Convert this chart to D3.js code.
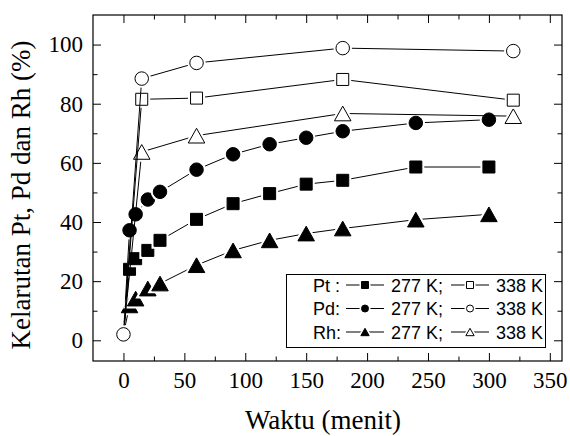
<!DOCTYPE html>
<html>
<head>
<meta charset="utf-8">
<script src="https://cdn.jsdelivr.net/npm/d3@7"></script>
<style>
  body { margin: 0; background: #fff; }
  svg { display: block; }
</style>
</head>
<body>
<svg id="chart" width="570" height="436"></svg>
<script>
// data
const t_277 = [0, 5, 10, 20, 30, 60, 90, 120, 150, 180, 240, 300];
const t_338 = [0, 15, 60, 180, 320];

const pt_277 = [2, 24, 27.6, 30.4, 33.8, 40.9, 46.2, 49.6, 52.8, 54.1, 58.6, 58.6];
const pd_277 = [2, 37.2, 42.6, 47.6, 50.2, 57.7, 62.9, 66.3, 68.5, 70.7, 73.5, 74.6];
const rh_277 = [2, 11.8, 14.1, 17.5, 19.2, 25.4, 30.4, 33.8, 36.1, 37.8, 40.8, 42.6];

const pt_338 = [2, 81.5, 81.9, 88.2, 81.2];
const pd_338 = [2, 88.5, 93.8, 98.8, 97.8];
const rh_338 = [2, 63.7, 69.2, 76.7, 75.8];

const x_ticks = [0, 50, 100, 150, 200, 250, 300, 350];
const x_minor = [25, 75, 125, 175, 225, 275, 325];
const y_ticks = [0, 20, 40, 60, 80, 100];
const y_minor = [10, 30, 50, 70, 90];

const series = [
  { t: t_277, v: pt_277, shape: "square", fill: "#000" },
  { t: t_277, v: pd_277, shape: "circle", fill: "#000" },
  { t: t_277, v: rh_277, shape: "triangle", fill: "#000" },
  { t: t_338, v: rh_338, shape: "triangle", fill: "#fff" },
  { t: t_338, v: pt_338, shape: "square", fill: "#fff" },
  { t: t_338, v: pd_338, shape: "circle", fill: "#fff" },
];

const m_left = 93, m_top = 15, m_right = 562, m_bottom = 361;
const serif = "'Liberation Serif', 'Times New Roman', serif";
const sans = "'Liberation Sans', Arial, sans-serif";

const svg = d3.select("#chart");

const x = d3.scaleLinear().domain([-25, 360]).range([m_left, m_right]);
const y = d3.scaleLinear().domain([-7, 110]).range([m_bottom, m_top]);

// marker path, centred on the bounding box
function marker(shape, s) {
  const p = d3.path();
  if (shape == "square") {
    p.rect(-s / 2, -s / 2, s, s);
  } else if (shape == "circle") {
    p.arc(0, 0, s / 2, 0, 2 * Math.PI);
  } else {
    const w = s * 1.18, h = s * 1.05;
    p.moveTo(0, -h / 2);
    p.lineTo(w / 2, h / 2);
    p.lineTo(-w / 2, h / 2);
    p.closePath();
  }
  return p.toString();
}

// axes, ticks pointing inward
function addAxis(axis, tx, ty, labels) {
  const g = svg.append("g").attr("transform", `translate(${tx},${ty})`).call(axis);
  g.select(".domain").remove();
  g.selectAll("line").attr("stroke", "#000").attr("stroke-width", 1);
  g.selectAll("text")
    .style("font-family", serif)
    .style("font-size", "23px")
    .attr("fill", "#000");
  if (!labels) g.selectAll("text").remove();
  return g;
}

addAxis(d3.axisBottom(x).tickValues(x_ticks).tickSize(-8).tickPadding(11).tickFormat(d3.format("d")), 0, m_bottom, true);
addAxis(d3.axisBottom(x).tickValues(x_minor).tickSize(-4.5), 0, m_bottom, false);
addAxis(d3.axisTop(x).tickValues(x_ticks).tickSize(-8), 0, m_top, false);
addAxis(d3.axisTop(x).tickValues(x_minor).tickSize(-4.5), 0, m_top, false);
addAxis(d3.axisLeft(y).tickValues(y_ticks).tickSize(-8).tickPadding(10).tickFormat(d3.format("d")), m_left, 0, true);
addAxis(d3.axisLeft(y).tickValues(y_minor).tickSize(-4.5), m_left, 0, false);
addAxis(d3.axisRight(y).tickValues(y_ticks).tickSize(-8), m_right, 0, false);
addAxis(d3.axisRight(y).tickValues(y_minor).tickSize(-4.5), m_right, 0, false);

svg.append("rect")
  .attr("x", m_left).attr("y", m_top)
  .attr("width", m_right - m_left).attr("height", m_bottom - m_top)
  .attr("fill", "none").attr("stroke", "#000").attr("stroke-width", 1.2);

// data
const line = d3.line().x((d) => x(d[0])).y((d) => y(d[1]));

series.forEach((s) => {
  const pts = s.t.map((t, i) => [t, s.v[i]]);
  svg.append("path")
    .attr("d", line(pts))
    .attr("fill", "none")
    .attr("stroke", "#000")
    .attr("stroke-width", 1);

  const size = s.shape == "circle" ? 13.5 : s.shape == "square" ? 12 : 14;
  const g = svg.append("g");
  pts.forEach((d) => {
    const m = g.append("g").attr("transform", `translate(${x(d[0])},${y(d[1])})`);
    m.append("path")
      .attr("d", marker(s.shape, size))
      .attr("fill", "#fff")
      .attr("stroke", "#fff")
      .attr("stroke-width", 5);
    m.append("path")
      .attr("d", marker(s.shape, size))
      .attr("fill", s.fill)
      .attr("stroke", "#000")
      .attr("stroke-width", 1);
  });
});

// axis titles
svg.append("text")
  .attr("x", 323).attr("y", 429)
  .attr("text-anchor", "middle")
  .style("font-family", serif).style("font-size", "27px")
  .text("Waktu (menit)");

svg.append("text")
  .attr("transform", "translate(30,195) rotate(-90)")
  .attr("text-anchor", "middle")
  .style("font-family", serif).style("font-size", "27px")
  .text("Kelarutan Pt, Pd dan Rh (%)");

// legend
const legend_names = ["Pt :", "Pd:", "Rh:"];
const legend_shapes = ["square", "circle", "triangle"];

svg.append("rect")
  .attr("x", 286.5).attr("y", 274.5)
  .attr("width", 259).attr("height", 73)
  .attr("fill", "#fff").attr("stroke", "#000").attr("stroke-width", 1);

legend_names.forEach((name, i) => {
  const cy = 285 + i * 23.5;
  const row = svg.append("g").style("font-family", sans).style("font-size", "18px");
  row.append("text").attr("x", 313).attr("y", cy + 6.5).text(name);
  row.append("text").attr("x", 391).attr("y", cy + 6.5).text("277 K;");
  row.append("text").attr("x", 496).attr("y", cy + 6.5).text("338 K");

  [[346, 384, "#000"], [451, 489, "#fff"]].forEach(([x0, x1, fill]) => {
    row.append("line")
      .attr("x1", x0).attr("x2", x1)
      .attr("y1", cy).attr("y2", cy)
      .attr("stroke", "#000").attr("stroke-width", 1);
    const m = row.append("g").attr("transform", `translate(${(x0 + x1) / 2},${cy})`);
    m.append("path")
      .attr("d", marker(legend_shapes[i], 7))
      .attr("fill", "#fff").attr("stroke", "#fff").attr("stroke-width", 4);
    m.append("path")
      .attr("d", marker(legend_shapes[i], 7))
      .attr("fill", fill).attr("stroke", "#000").attr("stroke-width", 1);
  });
});
</script>
</body>
</html>
